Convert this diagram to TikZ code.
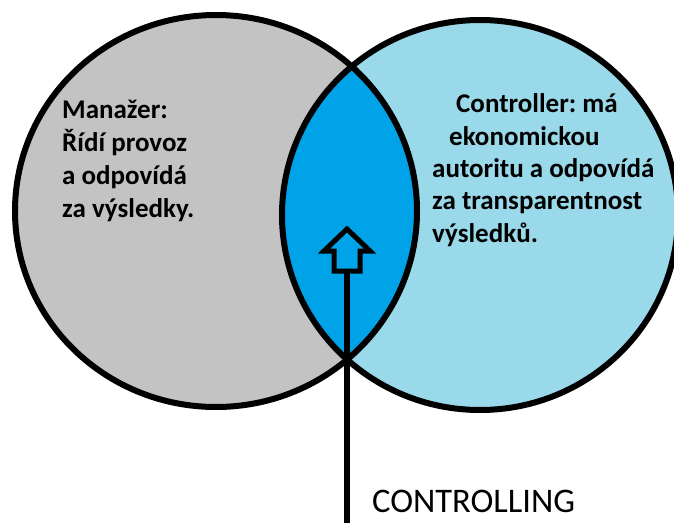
\documentclass[tikz,border=0pt]{standalone}
\usepackage{fontspec}
\setmainfont{Carlito}
\frenchspacing
\definecolor{mgrgray}{HTML}{C3C3C3}
\definecolor{ctrlblue}{HTML}{99D9EA}
\definecolor{lensblue}{HTML}{00A2E8}
\begin{document}
\begin{tikzpicture}[x=1pt, y=-1pt,
    ring/.style={draw=black, line width=6pt},
    roletext/.style={font=\bfseries\fontsize{27}{33}\selectfont, align=left, inner sep=0pt, anchor=base west}]
  \useasboundingbox (0,0) rectangle (674,522);

  % Circles
  \coordinate (M) at (216,211);
  \coordinate (C) at (480,215);
  \fill[mgrgray] (M) circle [x radius=201pt, y radius=196pt];
  \fill[ctrlblue] (C) circle [x radius=198pt, y radius=195pt];
  \begin{scope}
    \clip (M) circle [x radius=201pt, y radius=196pt];
    \fill[lensblue] (C) circle [x radius=198pt, y radius=195pt];
  \end{scope}
  \draw[ring] (M) circle [x radius=201pt, y radius=196pt];
  \draw[ring] (C) circle [x radius=198pt, y radius=195pt];

  % Arrow
  \coordinate (tip) at (347,229);
  \coordinate (stem) at (347,271);
  \coordinate (foot) at (347,530);
  \draw[line width=5pt, fill=lensblue] (tip) -- ++(23,22) -- ++(-10,0) -- ++(0,20)
    -- ++(-26,0) -- ++(0,-20) -- ++(-10,0) -- cycle;
  \draw[line width=6pt] (foot) -- (stem);

  % Labels (anchored at the baseline of the last line)
  \node[roletext] (mgr) at (62,217) {Manažer:\\Řídí provoz\\a odpovídá\\za výsledky.};
  \node[roletext, font=\bfseries\fontsize{27}{32.3}\selectfont] (ctrl) at (432,242)
    {\hspace*{24pt}Controller: má\\\hspace*{17pt}ekonomickou\\autoritu a odpovídá\\za transparentnost\\výsledků.};
  \node[font=\fontsize{34.5}{40}\selectfont, anchor=base west, inner sep=0pt] (ctrlg) at (372,512) {CONTROLLING};
\end{tikzpicture}
\end{document}
